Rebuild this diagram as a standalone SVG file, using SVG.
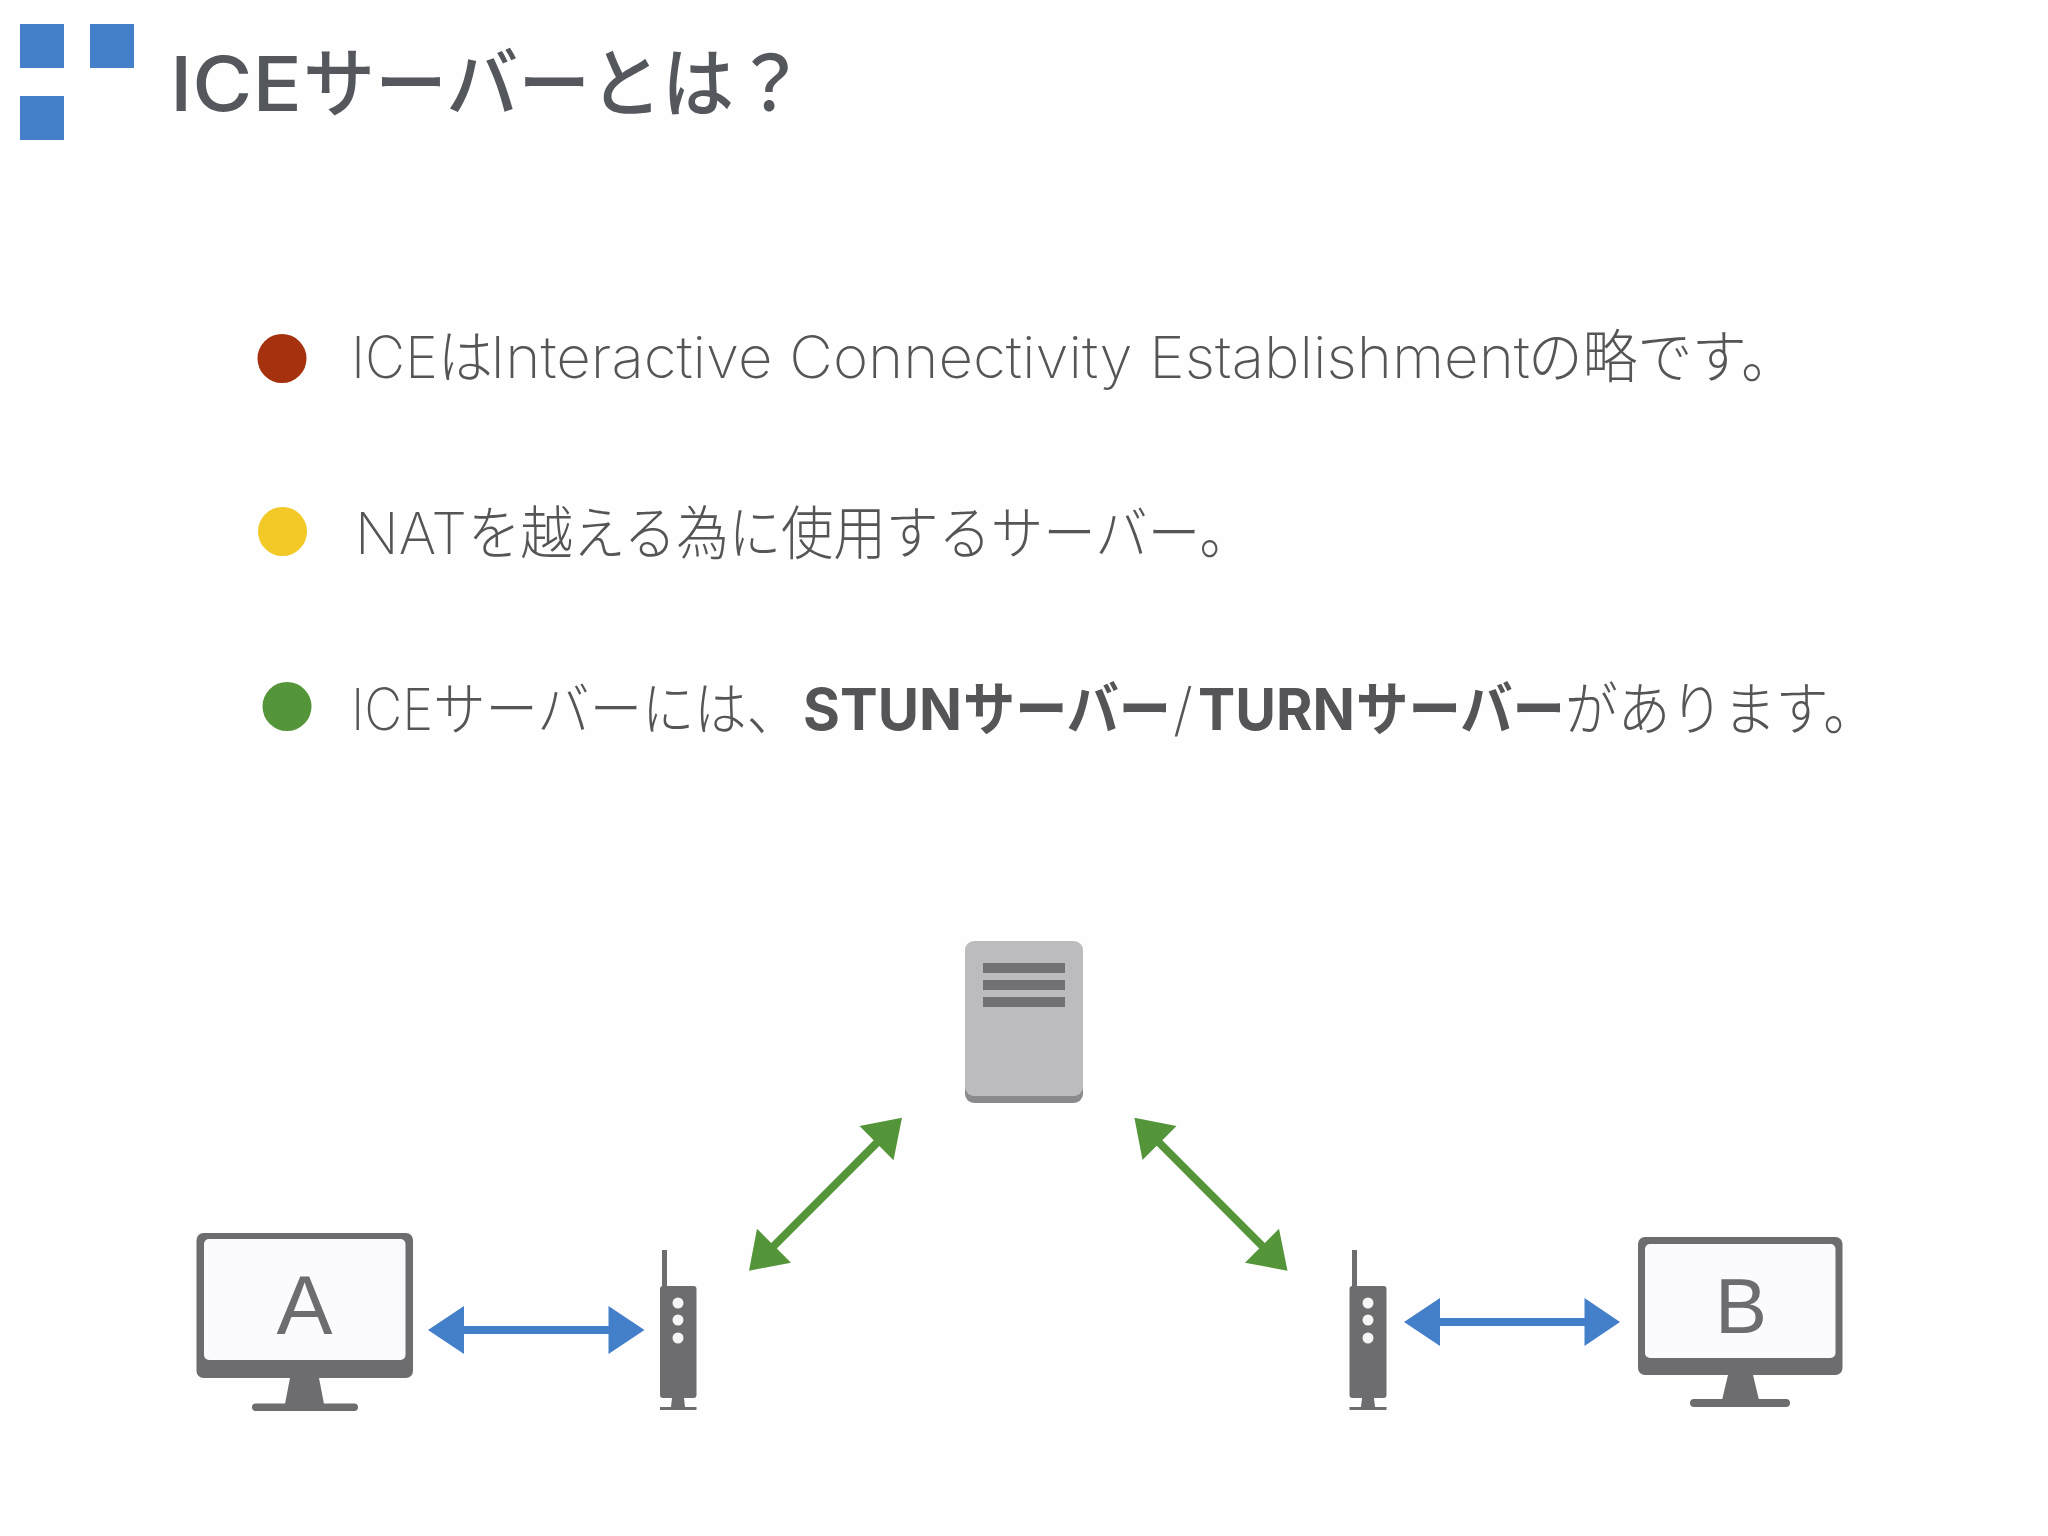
<svg xmlns="http://www.w3.org/2000/svg" width="2048" height="1536" viewBox="0 0 2048 1536">
<style>
text{font-family:"Inter","Noto Sans CJK JP",sans-serif;fill:#555558}
.title{font-size:76px;font-weight:500;fill:#54575c}
.body{font-size:58px;font-weight:200}
.b{font-weight:700}
.lbl{font-family:"Liberation Sans",sans-serif;fill:#6d6d70}
.sq{fill:#4480ca}
.dk{fill:#6d6d70}
.scr{fill:#fbfafd}
.blue{fill:#4480ca}
.green{fill:#55953a}
.dot{fill:#f6f6f6}
</style>
<rect width="2048" height="1536" fill="#fefefe"/>
<g id="logo"><rect class="sq" x="20" y="24" width="44" height="44"/><rect class="sq" x="90" y="24" width="44" height="44"/><rect class="sq" x="20" y="96" width="44" height="44"/></g>
<g id="title"><text class="title" y="111"><tspan x="170" textLength="132" lengthAdjust="spacingAndGlyphs">ICE</tspan><tspan x="303" textLength="503" lengthAdjust="spacingAndGlyphs">サーバーとは？</tspan></text></g>
<g id="bullet1"><circle cx="282" cy="358.5" r="24.5" fill="#a5310f"/><text class="body" y="378"><tspan x="351" textLength="142" lengthAdjust="spacingAndGlyphs">ICEは</tspan><tspan x="490" textLength="1040" lengthAdjust="spacingAndGlyphs">Interactive Connectivity Establishment</tspan><tspan x="1528" textLength="268" lengthAdjust="spacingAndGlyphs">の略です。</tspan></text></g>
<g id="bullet2"><circle cx="282.5" cy="531.5" r="24.5" fill="#f2c926"/><text class="body" y="554"><tspan x="355" textLength="112" lengthAdjust="spacingAndGlyphs">NAT</tspan><tspan x="468" textLength="784" lengthAdjust="spacingAndGlyphs">を越える為に使用するサーバー。</tspan></text></g>
<g id="bullet3"><circle cx="287" cy="706.5" r="24.5" fill="#55953a"/><text class="body" y="730"><tspan x="351" textLength="448" lengthAdjust="spacingAndGlyphs">ICEサーバーには、</tspan><tspan class="b" x="803" textLength="159" lengthAdjust="spacingAndGlyphs">STUN</tspan><tspan class="b" x="963" textLength="208" lengthAdjust="spacingAndGlyphs">サーバー</tspan><tspan x="1173" textLength="20" lengthAdjust="spacingAndGlyphs">/</tspan><tspan class="b" x="1198" textLength="157" lengthAdjust="spacingAndGlyphs">TURN</tspan><tspan class="b" x="1356" textLength="209" lengthAdjust="spacingAndGlyphs">サーバー</tspan><tspan x="1565" textLength="311" lengthAdjust="spacingAndGlyphs">があります。</tspan></text></g>
<g id="server">
<rect x="965" y="1000" width="118" height="103" rx="9" fill="#8b8b8f"/>
<rect x="965" y="941" width="118" height="155" rx="9" fill="#bcbcbe"/>
<rect class="dk" x="983" y="963" width="82" height="10" fill-opacity=".95"/><rect class="dk" x="983" y="980" width="82" height="10" fill-opacity=".95"/><rect class="dk" x="983" y="997" width="82" height="10" fill-opacity=".95"/>
</g>
<g id="pcA">
<rect class="dk" x="196.500" y="1233" width="216.500" height="145" rx="7"/>
<rect class="scr" x="204" y="1239" width="201.500" height="121" rx="5"/>
<path class="dk" d="M290 1378H319L324 1404H285Z"/>
<rect class="dk" x="252" y="1403.500" width="106" height="7.500" rx="3.700"/>
<text class="lbl" x="304.500" y="1334" font-size="84" text-anchor="middle">A</text>
</g>
<g id="routerA">
<rect class="dk" x="662" y="1250" width="5" height="40"/>
<rect class="dk" x="660" y="1286" width="36.500" height="112" rx="3"/>
<circle class="dot" cx="678" cy="1303" r="5.500"/><circle class="dot" cx="678" cy="1320" r="5.500"/><circle class="dot" cx="678" cy="1338" r="5.500"/>
<path class="dk" d="M672 1398H684L685 1407H696.500V1410H660V1407H671Z"/>
</g>
<g id="routerB">
<rect class="dk" x="1352" y="1250" width="5" height="40"/>
<rect class="dk" x="1349.500" y="1286" width="37" height="112" rx="3"/>
<circle class="dot" cx="1368" cy="1303" r="5.500"/><circle class="dot" cx="1368" cy="1320" r="5.500"/><circle class="dot" cx="1368" cy="1338" r="5.500"/>
<path class="dk" d="M1362 1398H1374L1375 1407H1386.500V1410H1349.500V1407H1361Z"/>
</g>
<g id="pcB">
<rect class="dk" x="1638" y="1237" width="204.500" height="138" rx="7"/>
<rect class="scr" x="1645" y="1244" width="190.500" height="114" rx="5"/>
<path class="dk" d="M1728 1375H1753L1759 1400H1722Z"/>
<rect class="dk" x="1690" y="1399" width="100" height="8" rx="4"/>
<text class="lbl" x="1741" y="1333" font-size="78" text-anchor="middle">B</text>
</g>
<g id="connectors">
<path class="blue" d="M428 1330L464 1306V1326H608.500V1306L644.500 1330L608.500 1354V1334H464V1354Z"/>
<path class="blue" d="M1404 1322L1440 1298V1318H1584.500V1298L1620 1322L1584.500 1346V1326H1440V1346Z"/>
<path class="green" d="M749 1270.700L757 1228.700L771.200 1242.900L873.700 1140.350L859.500 1126L902 1117.700L893.500 1160.300L879.300 1145.950L776.800 1248.500L791 1262.700Z"/>
<path class="green" d="M1134.400 1117.700L1176.500 1126L1162.300 1140.200L1264.800 1242.900L1279 1228.700L1287.500 1270.700L1245 1262.700L1259.200 1248.500L1156.700 1145.800L1142.500 1160Z"/>
</g>
</svg>
